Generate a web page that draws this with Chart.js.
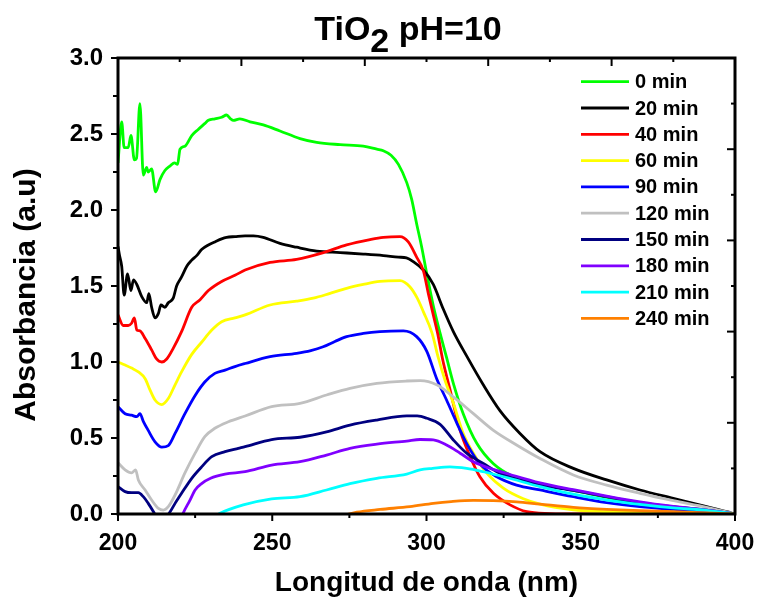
<!DOCTYPE html>
<html><head><meta charset="utf-8">
<script src="https://cdn.jsdelivr.net/npm/chart.js@4.4.0/dist/chart.umd.min.js"></script>
<style>html,body{margin:0;padding:0;background:#fff;}canvas{display:block;}</style>
</head><body>
<canvas id="c" width="760" height="605"></canvas>
<script>
// ---- data ----
const seriesLabels = ['0 min','20 min','40 min','60 min','90 min','120 min','150 min','180 min','210 min','240 min'];
const seriesColors = ['#00FF00','#000000','#FF0000','#FFFF00','#0000FF','#C0C0C0','#000080','#8000FF','#00FFFF','#FF8000'];

const wl0 = [200,201.2,202,203.3,204.2,205.3,206,207.1,208.2,209.3,209.8,210.9,212.2,213.6,215.2,216.9,218.3,219.3,220.1,221.7,223.9,226,228.2,229.3,231.4,233.6,235.2,236.5,237.4,239.5,242.8,247.1,252.5,259,264.4,272,279.5,283.9,286,288.5,290.9,293.6,295.2,296.8,298.4,300.1,302.2,304.4,306.5,308.7,311.9,316.3,321.7,328.2,335,340,350,360,370,380,390,400];
const ab0 = [2.31,2.58,2.41,2.41,2.49,2.33,2.34,2.70,2.23,2.28,2.25,2.27,2.12,2.20,2.26,2.29,2.31,2.30,2.40,2.42,2.49,2.53,2.57,2.59,2.60,2.61,2.625,2.60,2.59,2.60,2.58,2.56,2.52,2.47,2.445,2.43,2.42,2.40,2.39,2.36,2.30,2.18,2.07,1.91,1.76,1.58,1.37,1.19,1.03,0.86,0.66,0.465,0.33,0.245,0.205,0.185,0.145,0.102,0.068,0.042,0.02,0];

const wl1 = [200,200.5,201.2,202,203.1,204.2,205,206.1,207.7,209.3,210,210.9,212,213.1,213.9,215.2,216.3,217.9,219,220.6,222.3,223.9,225.5,227.1,229.3,231.4,233.6,235.2,237.9,241.2,243.9,247.1,252.5,257.9,264.4,272,279.5,286,290.9,293.5,295.7,299,302.2,305.4,308.7,313,318.4,323.8,330.3,336.8,347.6,358.4,369.2,380,390.8,397.3,400];
const ab1 = [1.76,1.70,1.63,1.44,1.58,1.47,1.54,1.51,1.43,1.39,1.45,1.36,1.29,1.32,1.375,1.36,1.39,1.42,1.50,1.56,1.63,1.67,1.70,1.74,1.77,1.79,1.81,1.82,1.825,1.83,1.83,1.82,1.78,1.755,1.73,1.72,1.71,1.70,1.69,1.685,1.66,1.605,1.51,1.35,1.20,1.04,0.85,0.68,0.53,0.41,0.30,0.224,0.158,0.103,0.048,0.015,0];

const wl2 = [200,201.7,203.3,204.4,205.3,206.1,207.1,208.8,210.9,212.5,214.2,215.8,217.9,220.6,223.9,226.6,229.3,233.6,237.9,241.2,249.3,257.9,266.6,274.1,281.7,286,291.4,294.1,296.8,299,300.6,302.2,303.6,305.2,307.6,310.9,314.1,317.3,321.7,327.1,332.5,340,350,400];
const ab2 = [1.31,1.24,1.24,1.255,1.29,1.21,1.205,1.155,1.08,1.02,1.00,1.02,1.09,1.20,1.36,1.41,1.47,1.53,1.57,1.605,1.655,1.675,1.72,1.77,1.805,1.82,1.825,1.79,1.69,1.60,1.45,1.31,1.19,1.02,0.82,0.55,0.38,0.245,0.136,0.06,0.015,0.003,0,0];

const wl3 = [200,202.3,204.4,206.6,208.8,210.4,212,214.2,216.3,218.5,220.6,223.9,227.1,230.4,233.6,237.9,241.2,249.3,257.9,263.3,268.5,274.1,279.5,284.9,291.4,294.6,297,299,301.8,303.8,306,308.7,311.9,315.2,319.5,324.9,331.4,336.8,347.6,358.4,370,385,400];
const ab3 = [1.00,0.98,0.96,0.935,0.89,0.815,0.75,0.72,0.76,0.85,0.935,1.05,1.13,1.21,1.265,1.29,1.31,1.375,1.40,1.42,1.45,1.485,1.51,1.53,1.535,1.495,1.42,1.33,1.19,1.03,0.88,0.73,0.53,0.40,0.27,0.17,0.10,0.065,0.028,0.015,0.008,0.003,0];

const wl4 = [200,202.3,204.4,206.1,207.1,208.2,209.8,212,214.2,216.3,218.5,221.7,225,228.2,231.4,234.7,237.9,241.2,249.3,257.9,262.5,266.5,270.3,274.1,279.5,284.9,292.5,296.8,300.1,303.3,306.5,309.8,313,317.3,322.8,329.2,336.8,347.6,358.4,369.2,380,390.8,400];
const ab4 = [0.706,0.66,0.65,0.64,0.66,0.61,0.55,0.475,0.44,0.45,0.53,0.66,0.78,0.87,0.925,0.947,0.97,0.99,1.035,1.057,1.075,1.10,1.135,1.167,1.188,1.20,1.205,1.167,1.07,0.89,0.75,0.60,0.465,0.33,0.245,0.19,0.158,0.114,0.075,0.048,0.03,0.015,0];

const wl5 = [200,202.3,204.4,205.7,206.6,208.8,210.9,213.1,214.7,216.3,218.5,221.7,225,228.2,231.4,235.8,241.2,249.8,259,267.6,275.2,283.9,293.6,298,303.3,308.7,315.2,321.7,329.2,336.8,347.6,358.4,369.2,380,390.8,400];
const ab5 = [0.337,0.29,0.27,0.29,0.224,0.158,0.092,0.037,0.026,0.048,0.125,0.27,0.40,0.51,0.564,0.607,0.645,0.706,0.728,0.783,0.827,0.86,0.875,0.877,0.85,0.77,0.66,0.55,0.454,0.365,0.257,0.19,0.136,0.088,0.044,0];

const wl6 = [200,202.3,204.4,206.6,208.2,209.8,211.5,212.5,214,215.5,216.9,218.5,220.6,223.9,227.1,230.4,234.7,239,241.2,249.8,259,267.6,275.2,283.9,293.6,297,300.1,304.4,308.7,313,318.4,323.8,330.3,336.8,347.6,358.4,369.2,380,390.8,400];
const ab6 = [0.18,0.147,0.14,0.14,0.114,0.07,0.015,-0.02,-0.04,-0.02,0.015,0.07,0.136,0.235,0.31,0.377,0.41,0.432,0.443,0.49,0.505,0.54,0.585,0.618,0.645,0.645,0.63,0.59,0.487,0.40,0.333,0.268,0.224,0.19,0.155,0.114,0.075,0.048,0.026,0];

const wl7 = [220.3,221,223.3,225,227.1,230,234.7,241.2,249.8,259,267.6,275.2,283.9,293.6,297.9,302.2,306.5,310.9,315.2,320.6,327.1,336.8,347.6,358.4,369.2,380,390.8,400];
const ab7 = [-0.04,0,0.09,0.158,0.2,0.235,0.262,0.278,0.322,0.344,0.388,0.432,0.46,0.48,0.49,0.487,0.454,0.40,0.344,0.30,0.26,0.205,0.16,0.118,0.08,0.05,0.025,0];

const wl8 = [232,233.1,240.6,249.8,259,267.6,275.2,283.9,293.6,297.9,302,307.6,313,318.4,326,336.8,347.6,358.4,369.2,380,390.8,400];
const ab8 = [-0.01,0.005,0.06,0.10,0.114,0.158,0.20,0.235,0.263,0.29,0.30,0.31,0.30,0.278,0.24,0.18,0.13,0.092,0.063,0.04,0.024,0];

const wl9 = [274,277.4,285,294.6,302.2,308,315.2,321.7,329.2,336.8,347.6,358.4,369.2,380,390.8,400];
const ab9 = [-0.005,0.012,0.03,0.048,0.07,0.082,0.09,0.088,0.08,0.065,0.044,0.031,0.022,0.015,0.007,0];

const wlSets = [wl0,wl1,wl2,wl3,wl4,wl5,wl6,wl7,wl8,wl9];
const abSets = [ab0,ab1,ab2,ab3,ab4,ab5,ab6,ab7,ab8,ab9];

const xTickStep = 50, yTickStep = 0.5;
const chartTitle = ['TiO', '2', ' pH=10'];
const xTitle = 'Longitud de onda (nm)';
const yTitle = 'Absorbancia (a.u)';

// ---- chart ----
const FONT = "'Liberation Sans', Arial, Helvetica, sans-serif";

const datasets = wlSets.map((wl, i) => ({
  label: seriesLabels[i],
  data: wl.map((x, k) => ({x: x, y: abSets[i][k]})),
  borderColor: seriesColors[i],
  backgroundColor: seriesColors[i],
  borderWidth: 2.8,
  pointRadius: 0,
  tension: 0,
  cubicInterpolationMode: 'monotone',
  order: -i
}));

function line(ctx, x1, y1, x2, y2){ ctx.beginPath(); ctx.moveTo(x1,y1); ctx.lineTo(x2,y2); ctx.stroke(); }

const decorPlugin = {
  id: 'decor',
  afterDatasetsDraw(chart){
    const {ctx, chartArea: a, scales: {x, y}} = chart;
    ctx.save();
    ctx.strokeStyle = '#000';
    ctx.lineWidth = 2;
    ctx.lineCap = 'butt';
    for (let v = 200; v <= 400; v += 25) {
      const px = x.getPixelForValue(v); const major = v % 50 === 0;
      line(ctx, px, a.bottom, px, a.bottom + (major ? 7 : 4));
    }
    for (let v = 200; v <= 400; v += 20) {
      const px = x.getPixelForValue(v); const major = (v - 200) % 40 === 0;
      line(ctx, px, a.top, px, a.top + (major ? 8 : 4));
    }
    for (let k = 0; k <= 12; k++) {
      const py = y.getPixelForValue(k * 0.25); const major = k % 2 === 0;
      line(ctx, a.left - (major ? 7 : 5), py, a.left, py);
    }
    for (let k = 0; k <= 10; k++) {
      const py = y.getPixelForValue(k * 0.3); const major = k % 2 === 0;
      line(ctx, a.right - (major ? 8 : 4), py, a.right, py);
    }
    ctx.lineWidth = 3;
    ctx.strokeRect(a.left, a.top, a.right - a.left, a.bottom - a.top);

    // legend
    ctx.font = 'bold 20px ' + FONT;
    ctx.textBaseline = 'middle';
    ctx.textAlign = 'left';
    chart.data.datasets.forEach((ds, i) => {
      const ly = 81.7 + i * 26.3;
      ctx.strokeStyle = ds.borderColor;
      ctx.lineWidth = 2.8;
      line(ctx, 581, ly, 629, ly);
      ctx.fillStyle = '#000';
      ctx.fillText(ds.label, 635, ly + 1);
    });

    // title with subscript
    ctx.fillStyle = '#000';
    ctx.textBaseline = 'alphabetic';
    ctx.font = 'bold 34px ' + FONT;
    const w1 = ctx.measureText(chartTitle[0]).width;
    const w2 = ctx.measureText(chartTitle[1]).width;
    const w3 = ctx.measureText(chartTitle[2]).width;
    let tx = 408 - (w1 + w2 + w3) / 2;
    ctx.fillText(chartTitle[0], tx, 40); tx += w1;
    ctx.fillText(chartTitle[1], tx, 52); tx += w2;
    ctx.fillText(chartTitle[2], tx, 40);

    // axis titles
    ctx.textAlign = 'center';
    ctx.textBaseline = 'middle';
    ctx.font = 'bold 28px ' + FONT;
    ctx.fillText(xTitle, (a.left + a.right) / 2, 583);
    ctx.font = 'bold 30px ' + FONT;
    ctx.save();
    ctx.translate(27, 295);
    ctx.rotate(-Math.PI / 2);
    ctx.fillText(yTitle, 0, 0);
    ctx.restore();
    ctx.restore();
  }
};

new Chart(document.getElementById('c'), {
  type: 'line',
  data: { datasets },
  options: {
    responsive: false,
    animation: false,
    devicePixelRatio: 1,
    layout: { padding: { top: 58, right: 25, left: 0, bottom: 0 } },
    plugins: { legend: { display: false }, tooltip: { enabled: false }, title: { display: false } },
    scales: {
      x: {
        type: 'linear', min: 200, max: 400,
        grid: { display: false, drawTicks: false },
        border: { display: false },
        ticks: { stepSize: xTickStep, color: '#000', padding: 16, font: { family: FONT, size: 23, weight: 'bold' }, maxRotation: 0 },
        afterFit(s){ s.height = 91; s.paddingRight = 0; s.paddingLeft = 0; }
      },
      y: {
        type: 'linear', min: 0, max: 3,
        grid: { display: false, drawTicks: false },
        border: { display: false },
        ticks: { stepSize: yTickStep, color: '#000', padding: 15, font: { family: FONT, size: 24, weight: 'bold' }, callback: v => v.toFixed(1) },
        afterFit(s){ s.width = 118; s.paddingTop = 0; s.paddingBottom = 0; }
      }
    }
  },
  plugins: [decorPlugin]
});
</script>
</body></html>
